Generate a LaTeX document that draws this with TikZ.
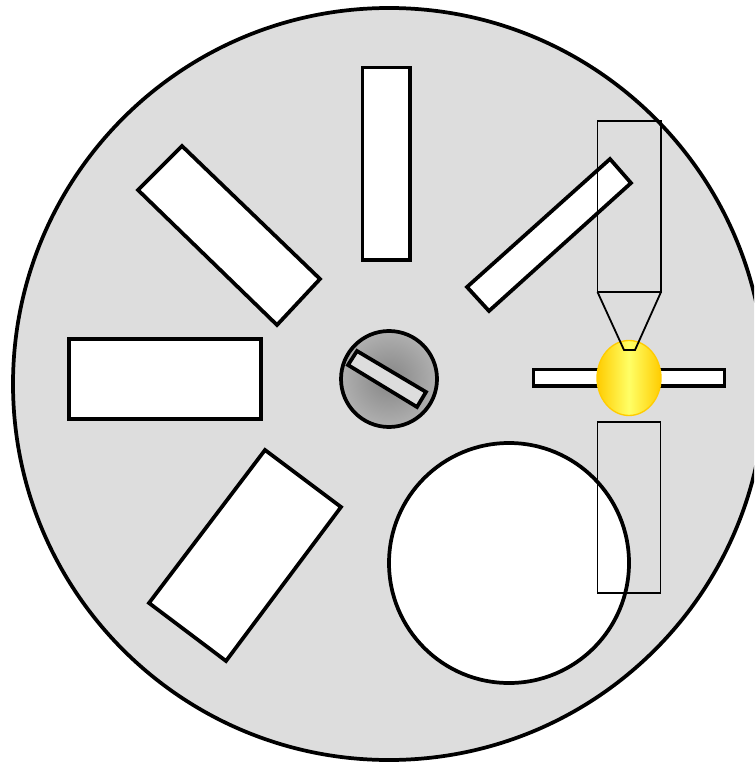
\documentclass[tikz,border=0pt]{standalone}
\tikzset{
  slot/.style={draw=black,fill=white,line width=2.8pt,line join=miter},
  thin outline/.style={draw=black,line width=1.35pt,line join=miter},
}
\definecolor{disc}{HTML}{DDDDDD}
\definecolor{hubin}{HTML}{858585}
\definecolor{hubout}{HTML}{B0B0B0}
\definecolor{glowa}{HTML}{FFFF66}
\definecolor{glowb}{HTML}{FFCC00}
\begin{document}
\begin{tikzpicture}[x=0.75pt,y=-0.75pt]
\useasboundingbox (0,0) rectangle (754,762);
\clip (0,0) rectangle (754,762);
% disc
\draw[fill=disc,draw=black,line width=2.8pt] (389,384) circle (376);
% slots
\draw[slot] (362.5,67.5) rectangle (410,260);
\draw[slot] (182,146) -- (320,279) -- (277,325) -- (138,190) -- cycle;
\draw[slot] (610,159) -- (631,183) -- (489,311) -- (467,287) -- cycle;
\draw[slot] (69,339) rectangle (261,419);
\draw[slot] (265,450) -- (341,507) -- (226,661) -- (149,603) -- cycle;
\draw[slot] (509,563) circle (120);
% hub
\draw[draw=black,line width=2.8pt,inner color=hubin,outer color=hubout] (389,379) circle (48);
\draw[draw=black,fill=disc,line width=2.8pt] (357,351) -- (426,392) -- (417,407) -- (348,365) -- cycle;
% bar and glow
\draw[draw=black,fill=white,line width=2.8pt] (533.5,369.5) rectangle (724.5,386);
\draw[draw=glowb,line width=1pt,left color=glowb,right color=glowb,middle color=glowa] (629,378) ellipse (32 and 37.5);
% nozzle and lower block
\draw[thin outline] (597.5,121) rectangle (661,292);
\draw[thin outline] (597.5,292) -- (624,350) -- (635,350) -- (661,292);
\draw[thin outline] (597.5,422) rectangle (660.5,593);
\end{tikzpicture}
\end{document}
